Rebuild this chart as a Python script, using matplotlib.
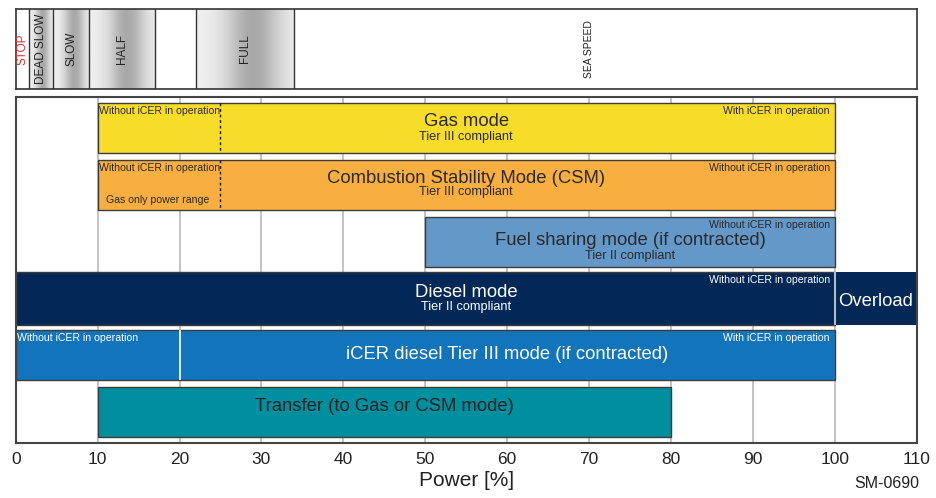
import numpy as np
import matplotlib
matplotlib.use("Agg")
import matplotlib.pyplot as plt

plt.rcParams["font.family"] = ["Liberation Sans", "DejaVu Sans"]

# --- speed bands (top strip) ---
speed_names = ["STOP", "DEAD SLOW", "SLOW", "HALF", "", "FULL", "SEA SPEED"]
speed_edges = [0, 1.6, 4.5, 9, 17, 22, 34, 110]
speed_shaded = [False, True, True, True, False, True, False]
speed_label_x = [0.8, 3.05, 6.75, 13, 19.5, 28, 70]

# --- operating modes (bottom chart, top row first) ---
mode_names = ["Gas mode", "Combustion Stability Mode (CSM)",
              "Fuel sharing mode (if contracted)", "Diesel mode",
              "iCER diesel Tier III mode (if contracted)",
              "Transfer (to Gas or CSM mode)"]
mode_start = [10, 10, 50, 0, 0, 10]
mode_end = [100, 100, 100, 100, 100, 80]
mode_tier = ["Tier III compliant", "Tier III compliant", "Tier II compliant",
             "Tier II compliant", "", ""]
mode_title_x = [55, 55, 75, 55, 60, 45]
left_notes = ["Without iCER in operation", "Without iCER in operation", "", "",
              "Without iCER in operation", ""]
right_notes = ["With iCER in operation", "Without iCER in operation",
               "Without iCER in operation", "Without iCER in operation",
               "With iCER in operation", ""]
overload_range = [100, 110]
gas_only_limit = 25
icer_split = 20
x_ticks = list(range(0, 111, 10))

# styling
colors = ["#F8DC2A", "#F9AE40", "#6498C8", "#012856", "#1274BB", "#008F9E"]
text_colors = ["#2a2a2a", "#2a2a2a", "#2a2a2a", "white", "white", "#222222"]
heights = [0.88, 0.88, 0.88, 0.93, 0.88, 0.88]
title_dy = [-0.12, -0.11, -0.02, -0.1, -0.02, -0.1]
tier_dy = [0.16, 0.13, 0.25, 0.15, 0, 0]

fig = plt.figure(figsize=(9.37, 4.98), dpi=100)

# ---------------- top strip ----------------
axt = fig.add_axes([0.0168, 0.8219, 0.9615, 0.1601])
axt.set_xlim(0, 110)
axt.set_ylim(0, 1)
t = np.linspace(0, 1, 200)
shade = 0.94 - 0.28 * np.exp(-((t - 0.58) / 0.28) ** 2)
for i, name in enumerate(speed_names):
    x0, x1 = speed_edges[i], speed_edges[i + 1]
    if speed_shaded[i]:
        axt.imshow(shade[None, :], extent=[x0, x1, 0, 1], aspect="auto",
                   cmap="gray", vmin=0, vmax=1, zorder=1)
    if name:
        axt.text(speed_label_x[i], 0.5, name, rotation=90, ha="center", va="center",
                 fontsize=8.5 if name != "SEA SPEED" else 7.5,
                 color="#ee2a2a" if name == "STOP" else "#222222", zorder=3)
for e in speed_edges[1:-1]:
    axt.axvline(e, color="#333333", lw=1.0, zorder=2)
axt.set_xticks([])
axt.set_yticks([])
for s in axt.spines.values():
    s.set_color("#333333")
    s.set_linewidth(1.2)

# ---------------- mode chart ----------------
ax = fig.add_axes([0.0168, 0.1098, 0.9615, 0.6954])
ax.set_xlim(0, 110)
ax.set_ylim(5.55, -0.55)

for x in x_ticks[1:-1]:
    ax.axvline(x, color="#b9b9b9", lw=1.2, zorder=0)

for i, name in enumerate(mode_names):
    x0, x1 = mode_start[i], mode_end[i]
    h = heights[i]
    ax.barh(i, x1 - x0, left=x0, height=h, color=colors[i],
            edgecolor="#3c3c3c", lw=1.0, zorder=2)
    ax.text(mode_title_x[i], i + title_dy[i], name, ha="center", va="center",
            fontsize=13.3, color=text_colors[i], zorder=4)
    if mode_tier[i]:
        ax.text(mode_title_x[i], i + tier_dy[i], mode_tier[i], ha="center",
                va="center", fontsize=9.2, color=text_colors[i], zorder=4)
    top = i - h / 2
    if left_notes[i]:
        ax.text(x0 + 0.2, top + 0.05, left_notes[i], ha="left", va="top",
                fontsize=7.6, color=text_colors[i], zorder=4)
    if right_notes[i]:
        ax.text(x1 - 0.6, top + 0.05, right_notes[i], ha="right", va="top",
                fontsize=7.6, color=text_colors[i], zorder=4)

# overload block next to diesel mode
ax.barh(3, overload_range[1] - overload_range[0], left=overload_range[0],
        height=heights[3], color=colors[3], edgecolor=colors[3], lw=0, zorder=2)
ax.vlines(overload_range[0], 3 - heights[3] / 2, 3 + heights[3] / 2,
          color="#b9b9b9", lw=1.5, zorder=3)
ax.text(sum(overload_range) / 2, 3.05, "Overload", ha="center", va="center",
        fontsize=13.3, color="white", zorder=4)

# gas-only power range markers
for r in (0, 1):
    ax.vlines(gas_only_limit, r - heights[r] / 2, r + heights[r] / 2,
              color="#111111", lw=1.0, linestyles=(0, (2, 2)), zorder=3)
ax.text(11.0, 1 + heights[1] / 2 - 0.08, "Gas only power range", ha="left",
        va="bottom", fontsize=7.6, color="#2a2a2a", zorder=4)

# iCER split line
ax.vlines(icer_split, 4 - heights[4] / 2, 4 + heights[4] / 2,
          color="white", lw=1.2, zorder=3)

ax.set_xticks(x_ticks)
ax.set_xticklabels([str(v) for v in x_ticks], fontsize=12.5, color="#222222")
ax.tick_params(axis="x", length=0, pad=6)
ax.set_yticks([])
ax.set_xlabel("Power [%]", fontsize=15, color="#222222", labelpad=3)
for s in ax.spines.values():
    s.set_color("#444444")
    s.set_linewidth(1.5)

fig.text(0.946, 0.014, "SM-0690", ha="center", va="bottom", fontsize=11.5,
         color="#222222")

fig.savefig("out.png", dpi=100)
